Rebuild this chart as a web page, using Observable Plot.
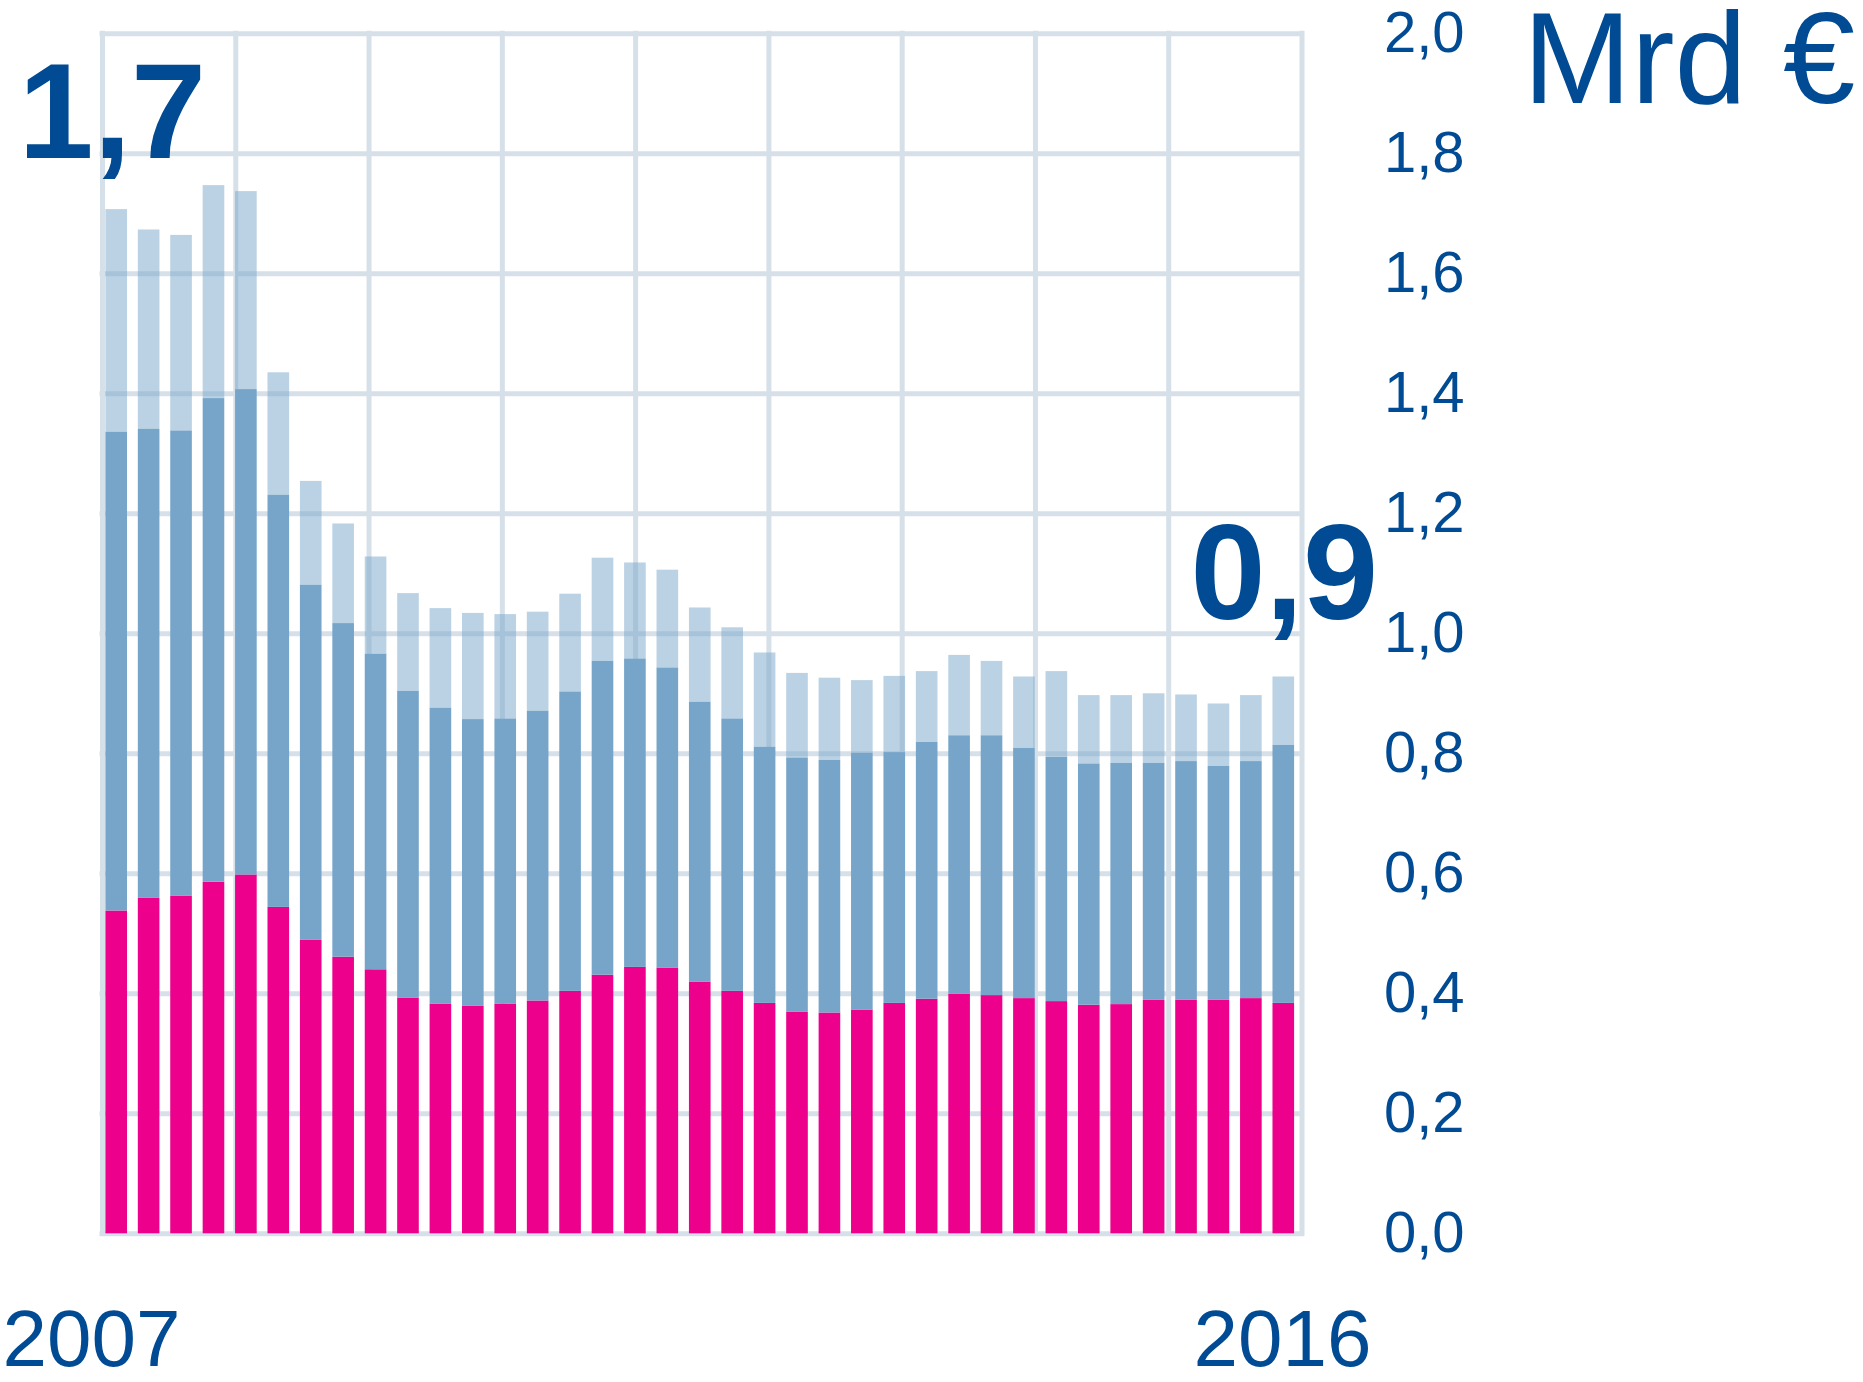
<!DOCTYPE html>
<html>
<head>
<meta charset="utf-8">
<script src="https://cdn.jsdelivr.net/npm/d3@7"></script>
<script src="https://cdn.jsdelivr.net/npm/@observablehq/plot@0.6"></script>
<style>
  html, body { margin: 0; padding: 0; background: #ffffff; }
  #chart svg { display: block; }
</style>
</head>
<body>
<div id="chart"></div>
<script>
// ---- Categories: quarters 2007 Q1 … 2016 Q1 ----
const firstYear = 2007;
const lastYear = 2016;
const quarters = [];
for (let y = firstYear; y <= lastYear; y++) {
  for (let q = 1; q <= 4; q++) {
    if (y === lastYear && q > 1) break;
    quarters.push(y + " Q" + q);
  }
}
const years = d3.range(firstYear, lastYear + 1);

// ---- Series values (Mrd €) ----
const seriesBottom = [0.538, 0.559, 0.563, 0.586, 0.598, 0.544, 0.489, 0.461, 0.440, 0.393,
                      0.383, 0.379, 0.383, 0.388, 0.404, 0.431, 0.444, 0.443, 0.419, 0.404,
                      0.384, 0.369, 0.368, 0.373, 0.384, 0.391, 0.399, 0.397, 0.392, 0.387,
                      0.381, 0.382, 0.389, 0.389, 0.389, 0.392, 0.384];
const seriesMiddle = [0.798, 0.782, 0.775, 0.806, 0.809, 0.687, 0.592, 0.556, 0.526, 0.511,
                      0.493, 0.478, 0.475, 0.483, 0.499, 0.523, 0.514, 0.500, 0.467, 0.454,
                      0.427, 0.424, 0.421, 0.428, 0.418, 0.428, 0.431, 0.433, 0.417, 0.407,
                      0.402, 0.402, 0.395, 0.398, 0.390, 0.395, 0.430];
const seriesTop    = [0.371, 0.332, 0.326, 0.355, 0.330, 0.204, 0.173, 0.166, 0.162, 0.163,
                      0.166, 0.177, 0.174, 0.165, 0.163, 0.172, 0.160, 0.163, 0.157, 0.152,
                      0.157, 0.141, 0.137, 0.121, 0.127, 0.118, 0.134, 0.124, 0.119, 0.143,
                      0.114, 0.113, 0.116, 0.111, 0.104, 0.110, 0.114];

// ---- Tick labels ----
const yTicks = [0, 0.2, 0.4, 0.6, 0.8, 1.0, 1.2, 1.4, 1.6, 1.8, 2.0];
const unitLabel = "Mrd €";
const seriesNames = ["unten", "mitte", "oben"];

// ---- Styles ----
const textColor = "#004b93";
const gridColor = "#d6e0e9";
const colors = ["#ec008c", "#76a5c9", "rgba(118,165,201,0.5)"];
const fmt = d => d.toFixed(1).replace(".", ",");

// ---- Long table for stacking ----
const rows = [];
quarters.forEach((q, i) => {
  rows.push({i, q, series: seriesNames[0], value: seriesBottom[i]});
  rows.push({i, q, series: seriesNames[1], value: seriesMiddle[i]});
  rows.push({i, q, series: seriesNames[2], value: seriesTop[i]});
});
const totals = quarters.map((q, i) => seriesBottom[i] + seriesMiddle[i] + seriesTop[i]);
const labelFirst = fmt(totals[0]);
const labelLast = fmt(totals[totals.length - 1]);
const yearLines = years.map(y => (y - firstYear) * quarters.length / (years.length - 1));

const W = 1863, H = 1382;
const chart = Plot.plot({
  width: W,
  height: H,
  marginLeft: 102,
  marginRight: 561.5,
  marginTop: 33.3,
  marginBottom: 148.7,
  style: {fontFamily: "'Liberation Sans', Arial, sans-serif", color: textColor, background: "#ffffff"},
  x: {type: "linear", domain: [0, quarters.length], axis: null},
  y: {domain: [0, 2]},
  color: {type: "ordinal", domain: seriesNames, range: colors},
  marks: [
    Plot.gridY(yTicks, {stroke: gridColor, strokeOpacity: 1, strokeWidth: 5, strokeLinecap: "square"}),
    Plot.ruleX(yearLines, {stroke: gridColor, strokeOpacity: 1, strokeWidth: 5, strokeLinecap: "square"}),
    Plot.rectY(rows, {
      x1: "i",
      x2: d => d.i + 1,
      y: "value",
      fill: "series",
      insetLeft: 3.4,
      insetRight: 7.4
    }),
    Plot.axisY(yTicks, {
      anchor: "right",
      tickSize: 0,
      tickPadding: 82,
      tickFormat: fmt,
      fontSize: 58,
      color: textColor,
      label: null
    }),
    Plot.text([labelFirst], {
      text: d => d, frameAnchor: "top-left", textAnchor: "start", lineAnchor: "middle",
      dx: -84, dy: 80.5, fontSize: 135, fontWeight: "bold", fill: textColor
    }),
    Plot.text([labelLast], {
      text: d => d, frameAnchor: "top-right", textAnchor: "start", lineAnchor: "middle",
      dx: -111.5, dy: 541.5, fontSize: 135, fontWeight: "bold", fill: textColor
    }),
    Plot.text([unitLabel], {
      text: d => d, frameAnchor: "top-right", textAnchor: "start", lineAnchor: "middle",
      dx: 221, dy: 28, fontSize: 130, fill: textColor
    }),
    Plot.text([String(firstYear)], {
      text: d => d, frameAnchor: "bottom-left", textAnchor: "start", lineAnchor: "middle",
      dx: -100, dy: 107, fontSize: 80, fill: textColor
    }),
    Plot.text([String(lastYear)], {
      text: d => d, frameAnchor: "bottom-right", textAnchor: "start", lineAnchor: "middle",
      dx: -108.5, dy: 107, fontSize: 80, fill: textColor
    })
  ]
});
document.getElementById("chart").appendChild(chart);
</script>
</body>
</html>
